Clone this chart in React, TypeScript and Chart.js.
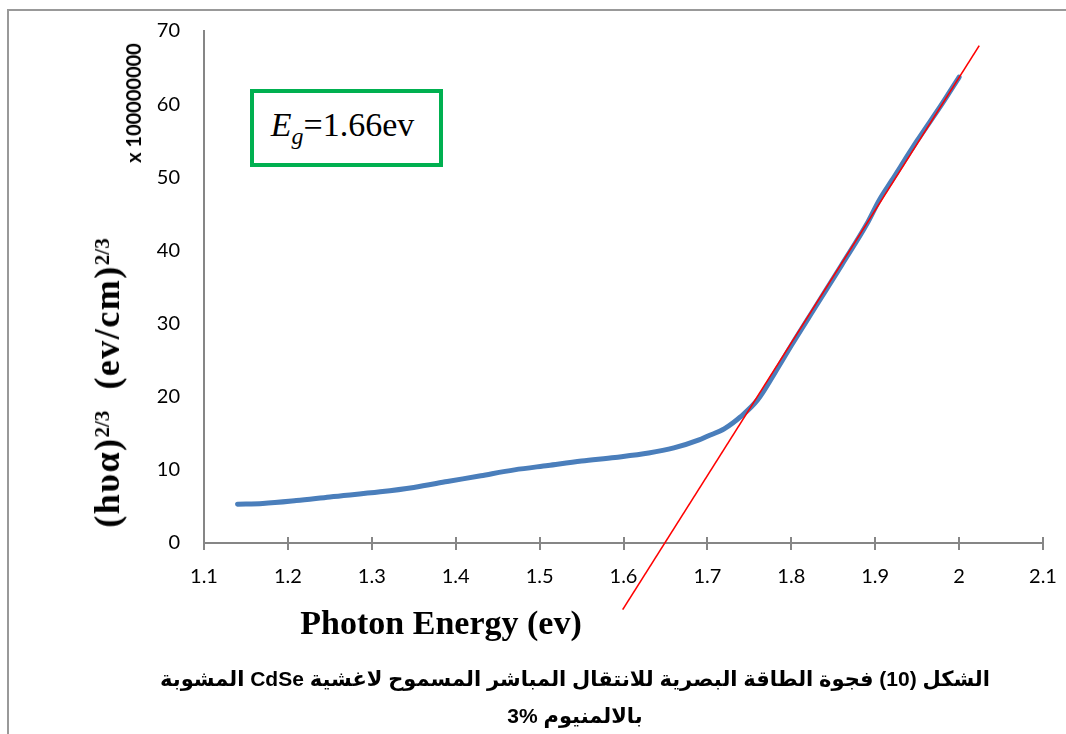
import React, { useEffect, useRef } from "react";
import { Chart, registerables } from "chart.js";

Chart.register(...registerables);

// ---- data ----
const photonEnergy = [
  1.14, 1.17, 1.21, 1.25, 1.31, 1.35, 1.39, 1.43, 1.47, 1.51, 1.55, 1.59,
  1.63, 1.66, 1.69, 1.70, 1.72, 1.74, 1.76, 1.78, 1.80, 1.83, 1.86, 1.89,
  1.905, 1.92, 1.95, 1.98, 2.0,
];
const absorptionTerm = [
  5.3, 5.4, 5.8, 6.3, 7.0, 7.6, 8.4, 9.2, 10.0, 10.6, 11.2, 11.7,
  12.3, 13.0, 14.1, 14.6, 15.6, 17.3, 19.6, 23.2, 27.0, 32.5, 38.0, 43.6,
  46.9, 49.6, 55.0, 60.1, 63.7,
];
const fitLineX = [1.599, 2.024];
const fitLineY = [-9.1, 68.0];
const xTicks = [1.1, 1.2, 1.3, 1.4, 1.5, 1.6, 1.7, 1.8, 1.9, 2.0, 2.1];
const yTicks = [0, 10, 20, 30, 40, 50, 60, 70];

const W = 1066;
const H = 734;
const AXIS_GRAY = "#868686";

const crossTicks = {
  id: "crossTicks",
  afterDatasetsDraw(chart: any) {
    const x = chart.scales.x;
    const y = chart.scales.y;
    const ctx = chart.ctx;
    const base = y.getPixelForValue(0);
    ctx.save();
    ctx.strokeStyle = AXIS_GRAY;
    ctx.lineWidth = 2;
    xTicks.forEach((v) => {
      const px = Math.round(x.getPixelForValue(v));
      ctx.beginPath();
      ctx.moveTo(px, base - 6);
      ctx.lineTo(px, base + 7);
      ctx.stroke();
    });
    ctx.restore();
  },
};

function ChartCanvas() {
  const ref = useRef<HTMLCanvasElement | null>(null);
  useEffect(() => {
    if (!ref.current) return;
    const chart = new Chart(ref.current, {
      type: "line",
      data: {
        datasets: [
          {
            label: "fit",
            data: fitLineX.map((x, i) => ({ x, y: fitLineY[i] })),
            borderColor: "#ff0000",
            borderWidth: 1.6,
            pointRadius: 0,
            clip: false as any,
            order: 0,
          },
          {
            label: "data",
            data: photonEnergy.map((x, i) => ({ x, y: absorptionTerm[i] })),
            borderColor: "#4a7ebb",
            borderWidth: 5,
            borderCapStyle: "round",
            borderJoinStyle: "round",
            pointRadius: 0,
            cubicInterpolationMode: "monotone",
            order: 1,
          },
        ],
      },
      options: {
        responsive: false,
        animation: false,
        events: [],
        layout: { padding: { left: 0, right: 23, top: 31, bottom: 0 } },
        plugins: { legend: { display: false }, tooltip: { enabled: false } },
        scales: {
          x: {
            type: "linear",
            min: 1.1,
            max: 2.1,
            afterBuildTicks: (s: any) => {
              s.ticks = xTicks.map((v) => ({ value: v }));
            },
            afterFit: (s: any) => {
              s.height = H - 543;
              s.paddingLeft = 0;
              s.paddingRight = 0;
            },
            grid: { display: false, drawTicks: false },
            border: { display: true, color: AXIS_GRAY, width: 2 },
            ticks: {
              padding: 22,
              color: "#000",
              font: { family: "Lato, 'Open Sans', sans-serif", size: 20 },
              maxRotation: 0,
              autoSkip: false,
              callback: (v: any) => String(Number(Number(v).toFixed(1))),
            },
          },
          y: {
            type: "linear",
            min: 0,
            max: 70,
            afterBuildTicks: (s: any) => {
              s.ticks = yTicks.map((v) => ({ value: v }));
            },
            afterFit: (s: any) => {
              s.width = 204;
              s.paddingTop = 0;
              s.paddingBottom = 0;
            },
            grid: { display: false, drawTicks: false },
            border: { display: true, color: AXIS_GRAY, width: 2 },
            ticks: {
              padding: 24,
              color: "#000",
              font: { family: "Lato, 'Open Sans', sans-serif", size: 20 },
              autoSkip: false,
            },
          },
        },
      } as any,
      plugins: [crossTicks],
    });
    return () => chart.destroy();
  }, []);
  return (
    <canvas
      ref={ref}
      width={W}
      height={H}
      style={{ position: "absolute", left: 0, top: 0, width: W, height: H }}
    />
  );
}

export default function App() {
  const serif = "'Liberation Serif', 'Times New Roman', serif";
  const supStyle: React.CSSProperties = {
    fontSize: 21,
    lineHeight: 0,
    verticalAlign: "0.5em",
    letterSpacing: 0,
  };
  return (
    <div
      style={{
        position: "fixed",
        left: 0,
        top: 0,
        width: W,
        height: H,
        background: "#fff",
        overflow: "hidden",
      }}
    >
      {/* outer frame */}
      <div
        style={{
          position: "absolute",
          left: 7,
          top: 9,
          width: W,
          height: H,
          borderLeft: "2px solid #999",
          borderTop: "2px solid #999",
        }}
      />
      <ChartCanvas />
      {/* y axis title */}
      <div
        style={{
          position: "absolute",
          left: 107,
          top: 383,
          transform: "translate(-50%, -50%) rotate(-90deg)",
          whiteSpace: "nowrap",
          fontFamily: serif,
          fontWeight: "bold",
          fontSize: 36,
          lineHeight: "36px",
          letterSpacing: 1.5,
          color: "#000",
        }}
      >
        (hυα)
        <sup style={supStyle}>2/3</sup>
        {"\u00a0\u00a0"}(ev/cm)
        <sup style={supStyle}>2/3</sup>
      </div>
      {/* scale multiplier */}
      <div
        style={{
          position: "absolute",
          left: 133,
          top: 103,
          transform: "translate(-50%, -50%) rotate(-90deg)",
          whiteSpace: "nowrap",
          fontFamily: "Lato, 'Open Sans', sans-serif",
          fontWeight: "bold",
          fontSize: 20,
          lineHeight: "20px",
          color: "#000",
        }}
      >
        x 100000000
      </div>
      {/* x axis title */}
      <div
        style={{
          position: "absolute",
          left: 441,
          top: 623,
          transform: "translate(-50%, -50%)",
          whiteSpace: "nowrap",
          fontFamily: serif,
          fontWeight: "bold",
          fontSize: 34,
          lineHeight: "36px",
          color: "#000",
        }}
      >
        Photon Energy (ev)
      </div>
      {/* Eg box */}
      <div
        style={{
          position: "absolute",
          left: 250,
          top: 89,
          width: 193,
          height: 78,
          boxSizing: "border-box",
          border: "4px solid #00b050",
          background: "#fff",
          display: "flex",
          alignItems: "center",
          justifyContent: "center",
          fontFamily: serif,
          fontSize: 34,
          color: "#000",
        }}
      >
        <span style={{ marginLeft: -8 }}>
          <i>E</i>
          <i style={{ fontSize: 24, verticalAlign: "-0.35em" }}>g</i>=1.66ev
        </span>
      </div>
      {/* caption */}
      <div
        dir="rtl"
        style={{
          position: "absolute",
          left: 125,
          top: 660,
          width: 900,
          textAlign: "center",
          fontFamily: "'Liberation Sans', Arial, 'DejaVu Sans', sans-serif",
          fontWeight: "bold",
          fontSize: 21,
          lineHeight: "37px",
          color: "#000",
        }}
      >
        <div>الشكل (10) فجوة الطاقة البصرية للانتقال المباشر المسموح  لاغشية CdSe المشوبة</div>
        <div>
          بالالمنيوم <span dir="ltr" style={{ unicodeBidi: "isolate" }}>3%</span>
        </div>
      </div>
    </div>
  );
}
